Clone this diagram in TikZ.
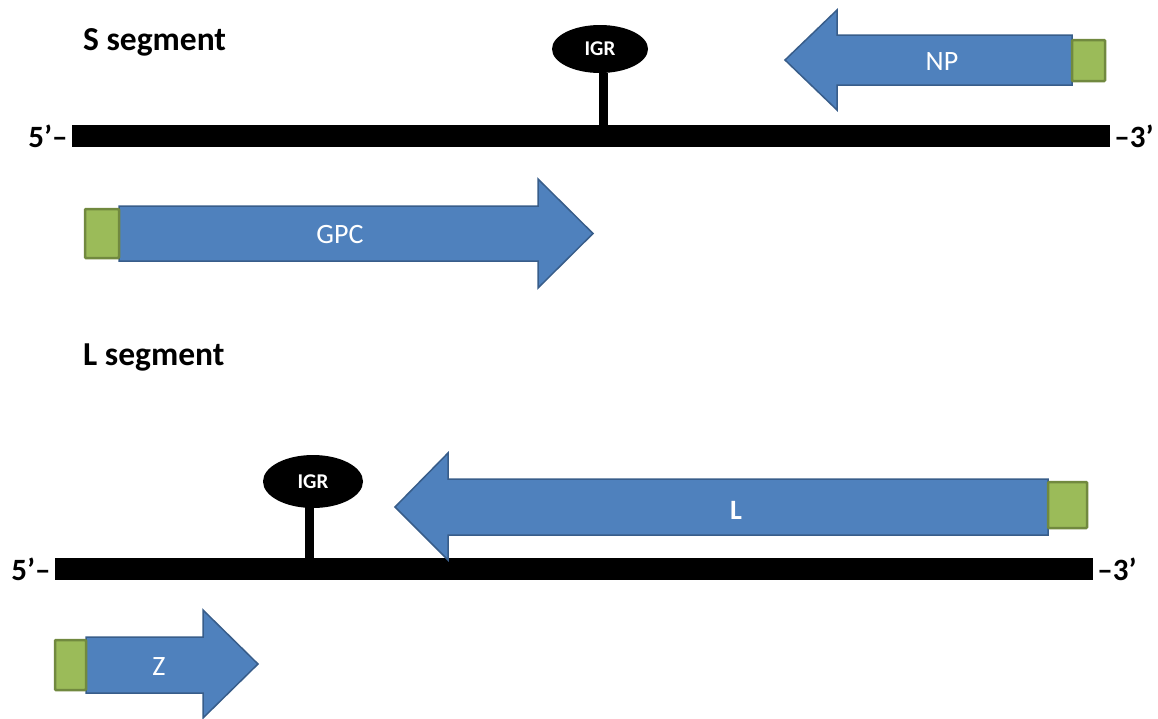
\documentclass[tikz,border=0pt]{standalone}
\usepackage{fontspec}
\setmainfont{Carlito}
\usepackage{tikz}
\usetikzlibrary{
  shapes.geometric,
  positioning
}
\definecolor{geneblue}{HTML}{4F81BD}
\definecolor{geneedge}{HTML}{385D8A}
\definecolor{capgreen}{HTML}{9BBB59}
\definecolor{capedge}{HTML}{71893F}

\begin{document}
\begin{tikzpicture}[x=1pt,y=-1pt,
  strand/.style={rectangle,fill=black,inner sep=0pt,minimum height=22pt},
  igr/.style={ellipse,fill=black,text=white,inner sep=0pt,font=\fontsize{21}{24}\selectfont\bfseries},
  stem/.style={line width=9pt,black},
  gene/.style={fill=geneblue,draw=geneedge,line width=1.5pt,line join=miter},
  capbox/.style={fill=capgreen,draw=capedge,line width=2.5pt,rounded corners=1pt},
  genename/.style={text=white,inner sep=0pt,font=\fontsize{28}{32}\selectfont},
  ends/.style={font=\fontsize{31}{34}\selectfont\bfseries,inner sep=4pt},
  segtitle/.style={anchor=base west,inner sep=0pt,font=\fontsize{33.5}{38}\selectfont\bfseries}]
  \useasboundingbox (0,0) rectangle (1158,718);

  % S segment
  \node[segtitle] (stitle) at (83,50) {S segment};
  \node[strand,minimum width=1038pt] (sbar) at (591,136) {};
  \node[ends,anchor=east] (s5) at (sbar.west) {5’–};
  \node[ends,anchor=west] (s3) at (sbar.east) {–3’};
  \node[igr,minimum width=96pt,minimum height=48pt] (sigr) at (600,49) {IGR};
  \draw[stem] (603,73) -- (sbar.north -| 603,0);

  \draw[gene] (1072,35) -- (837,35) -- (837,10) -- (785,60) -- (837,110) -- (837,85) -- (1072,85) -- cycle;
  \draw[capbox] (1072,40) rectangle (1105,81);
  \node[genename] (np) at (942,62) {NP};

  \draw[gene] (119,206) -- (538,206) -- (538,179) -- (593,233.5) -- (538,288) -- (538,261) -- (119,261) -- cycle;
  \draw[capbox] (85,209) rectangle (119,258);
  \node[genename] (gpc) at (340,235) {GPC};

  % L segment
  \node[segtitle] (ltitle) at (83,365) {L segment};
  \node[strand,minimum width=1038pt] (lbar) at (574,569) {};
  \node[ends,anchor=east] (l5) at (lbar.west) {5’–};
  \node[ends,anchor=west] (l3) at (lbar.east) {–3’};
  \node[igr,minimum width=100pt,minimum height=53pt] (ligr) at (313,481.5) {IGR};
  \draw[stem] (309,507) -- (lbar.north -| 309,0);

  \draw[gene] (1048,479) -- (448,479) -- (448,453) -- (395,507) -- (448,560) -- (448,535) -- (1048,535) -- cycle;
  \draw[capbox] (1048,482) rectangle (1087,528);
  \node[genename,font=\fontsize{28}{32}\selectfont\bfseries] (lgene) at (736,510) {L};

  \draw[gene] (86,637) -- (203,637) -- (203,610) -- (258,664) -- (203,718) -- (203,693) -- (86,693) -- cycle;
  \draw[capbox] (55,640) rectangle (86,690);
  \node[genename] (zgene) at (159,667) {Z};
\end{tikzpicture}
\end{document}
